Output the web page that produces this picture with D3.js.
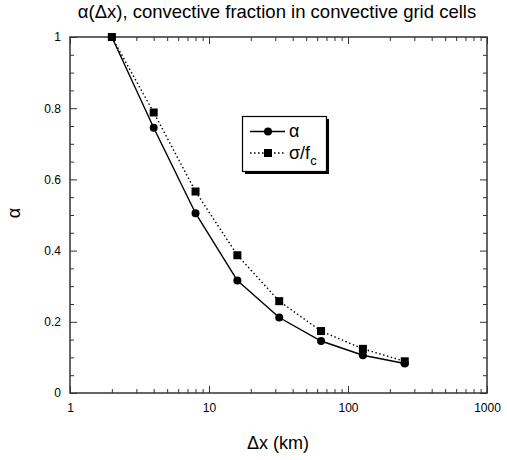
<!DOCTYPE html>
<html>
<head>
<meta charset="utf-8">
<script src="https://cdn.jsdelivr.net/npm/d3@7"></script>
<style>
  body { margin: 0; background: #fff; }
</style>
</head>
<body>
<script>
// grid sizes (km) and the two curves
const dx = [2, 4, 8, 16, 32, 64, 128, 256];
const alpha = [1.0, 0.745, 0.505, 0.316, 0.212, 0.146, 0.106, 0.083];
const sigmaFc = [1.0, 0.788, 0.566, 0.387, 0.258, 0.174, 0.124, 0.089];
const xTicks = [1, 10, 100, 1000];
const yTicks = [0, 0.2, 0.4, 0.6, 0.8, 1];

const W = 507, H = 460;
const plotL = 70, plotR = 487, plotT = 37, plotB = 393;
const font = "'Liberation Sans', Arial, sans-serif";

const svg = d3.select("body").append("svg")
  .attr("width", W)
  .attr("height", H)
  .style("background-color", "#fff");

const x = d3.scaleLog().domain([1, 1000]).range([plotL, plotR]);
const y = d3.scaleLinear().domain([0, 1]).range([plotB, plotT]);

// minor ticks
const xMinor = [];
[1, 10, 100].forEach(d => { for (let k = 2; k <= 9; k++) xMinor.push(d * k); });
const yMinor = d3.range(0, 1.0001, 0.05).filter(v => Math.abs(v * 5 - Math.round(v * 5)) > 1e-6);

const tickColor = "#333";

// bottom & top axes (ticks inward)
svg.append("g").attr("transform", `translate(0,${plotB})`)
  .call(d3.axisBottom(x).tickValues(xTicks).tickSize(-7).tickPadding(10).tickFormat(d3.format("d")))
  .call(g => g.select(".domain").remove());
svg.append("g").attr("transform", `translate(0,${plotB})`)
  .call(d3.axisBottom(x).tickValues(xMinor).tickSize(-4).tickFormat(""))
  .call(g => g.select(".domain").remove());
svg.append("g").attr("transform", `translate(0,${plotT})`)
  .call(d3.axisTop(x).tickValues(xTicks).tickSize(-7).tickFormat(""))
  .call(g => g.select(".domain").remove());
svg.append("g").attr("transform", `translate(0,${plotT})`)
  .call(d3.axisTop(x).tickValues(xMinor).tickSize(-4).tickFormat(""))
  .call(g => g.select(".domain").remove());

// left & right axes
svg.append("g").attr("transform", `translate(${plotL},0)`)
  .call(d3.axisLeft(y).tickValues(yTicks).tickSize(-7).tickPadding(9).tickFormat(d => d === 0 || d === 1 ? d3.format("d")(d) : d3.format(".1f")(d)))
  .call(g => g.select(".domain").remove());
svg.append("g").attr("transform", `translate(${plotL},0)`)
  .call(d3.axisLeft(y).tickValues(yMinor).tickSize(-4).tickFormat(""))
  .call(g => g.select(".domain").remove());
svg.append("g").attr("transform", `translate(${plotR},0)`)
  .call(d3.axisRight(y).tickValues(yTicks).tickSize(-7).tickFormat(""))
  .call(g => g.select(".domain").remove());
svg.append("g").attr("transform", `translate(${plotR},0)`)
  .call(d3.axisRight(y).tickValues(yMinor).tickSize(-4).tickFormat(""))
  .call(g => g.select(".domain").remove());

svg.selectAll(".tick line").attr("stroke", tickColor).attr("stroke-width", 1);
svg.selectAll(".tick text")
  .attr("font-family", font)
  .attr("font-size", "12px")
  .attr("fill", "#000");

// frame
svg.append("rect")
  .attr("x", plotL).attr("y", plotT)
  .attr("width", plotR - plotL).attr("height", plotB - plotT)
  .attr("fill", "none")
  .attr("stroke", tickColor)
  .attr("stroke-width", 1.5);

// curves
const line = d3.line().x(d => x(d[0])).y(d => y(d[1]));
const aPts = dx.map((d, i) => [d, alpha[i]]);
const sPts = dx.map((d, i) => [d, sigmaFc[i]]);

svg.append("path").datum(sPts)
  .attr("d", line)
  .attr("fill", "none")
  .attr("stroke", "#000")
  .attr("stroke-width", 1.4)
  .attr("stroke-dasharray", "1.5,2.5");

svg.append("path").datum(aPts)
  .attr("d", line)
  .attr("fill", "none")
  .attr("stroke", "#000")
  .attr("stroke-width", 1.4);

svg.selectAll(".sq").data(sPts).enter().append("rect")
  .attr("x", d => x(d[0]) - 4)
  .attr("y", d => y(d[1]) - 4)
  .attr("width", 8).attr("height", 8)
  .attr("fill", "#000");

svg.selectAll(".dot").data(aPts).enter().append("circle")
  .attr("cx", d => x(d[0]))
  .attr("cy", d => y(d[1]))
  .attr("r", 4)
  .attr("fill", "#000");

// legend
const lg = svg.append("g");
lg.append("rect")
  .attr("x", 245).attr("y", 119)
  .attr("width", 84).attr("height", 55)
  .attr("fill", "#000");
lg.append("rect")
  .attr("x", 242.5).attr("y", 116.5)
  .attr("width", 84).attr("height", 55)
  .attr("fill", "#fff")
  .attr("stroke", "#000")
  .attr("stroke-width", 1.2);

lg.append("line")
  .attr("x1", 250).attr("x2", 285).attr("y1", 131.5).attr("y2", 131.5)
  .attr("stroke", "#000").attr("stroke-width", 1.4);
lg.append("circle").attr("cx", 268).attr("cy", 131.5).attr("r", 4).attr("fill", "#000");
lg.append("text")
  .attr("x", 289).attr("y", 137)
  .attr("font-family", font).attr("font-size", "18px")
  .text("α");

lg.append("line")
  .attr("x1", 250).attr("x2", 285).attr("y1", 153).attr("y2", 153)
  .attr("stroke", "#000").attr("stroke-width", 1.4)
  .attr("stroke-dasharray", "1.5,2.5");
lg.append("rect").attr("x", 264).attr("y", 149).attr("width", 8).attr("height", 8).attr("fill", "#000");
const st = lg.append("text")
  .attr("x", 289).attr("y", 159)
  .attr("font-family", font).attr("font-size", "18px");
st.append("tspan").text("σ/f");
st.append("tspan").attr("dy", 6).attr("font-size", "13px").text("c");

// titles
svg.append("text")
  .attr("x", 277).attr("y", 18)
  .attr("text-anchor", "middle")
  .attr("font-family", font)
  .attr("font-size", "18.5px")
  .text("α(Δx), convective fraction in convective grid cells");

svg.append("text")
  .attr("x", 278).attr("y", 449)
  .attr("text-anchor", "middle")
  .attr("font-family", font)
  .attr("font-size", "18px")
  .text("Δx (km)");

svg.append("text")
  .attr("transform", "translate(20,213) rotate(-90)")
  .attr("text-anchor", "middle")
  .attr("font-family", font)
  .attr("font-size", "18px")
  .text("α");
</script>
</body>
</html>
